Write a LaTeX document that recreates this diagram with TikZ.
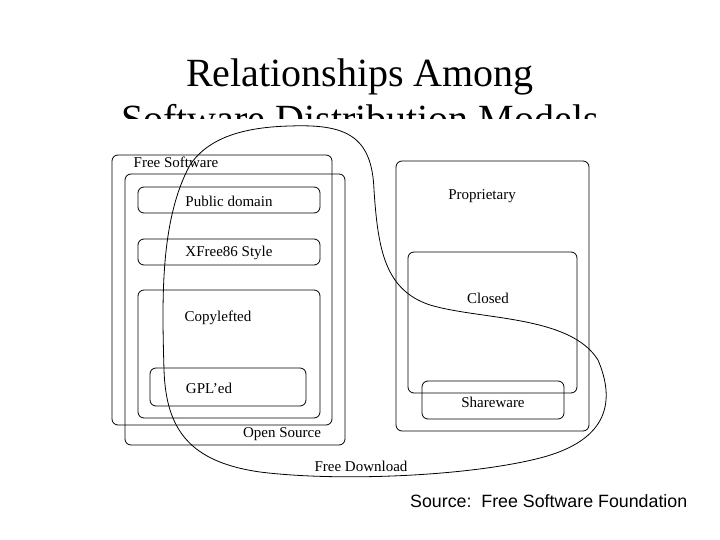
\documentclass[tikz,border=0pt]{standalone}
\usepackage{fontspec}
\setmainfont{Liberation Serif}
\newfontfamily\sans{Liberation Sans}
\begin{document}
\begin{tikzpicture}[x=1pt,y=-1pt,
  box/.style={draw,rounded corners=6pt,line width=0.8pt},
  lab/.style={font=\fontsize{15}{17}\selectfont,inner sep=0pt}]
\useasboundingbox (0,0) rectangle (720,540);
\node[font=\fontsize{40}{46}\selectfont,align=center,anchor=north] (title) at (360,55) {Relationships Among\\Software Distribution Models};
\fill[white] (98,119) rectangle (622,488);
\draw[box] (112,155) rectangle (332,425);
\draw[box] (125,174) rectangle (345,445);
\draw[box] (138,187) rectangle (320,213);
\draw[box] (138,239) rectangle (320,265);
\draw[box] (138,290) rectangle (320,418);
\draw[box] (150,368) rectangle (306,406);
\draw[box] (396,161) rectangle (589,431);
\draw[box] (408,252) rectangle (577,393);
\draw[box] (422,381) rectangle (564,419);
\node[lab] (fs) at (176,162) {Free Software};
\node[lab] (os) at (282,434) {Open Source};
\node[lab] (pd) at (229,201) {Public domain};
\node[lab] (xf) at (229,253) {XFree86 Style};
\node[lab] (cl) at (218,318) {Copylefted};
\node[lab] (gpl) at (209,388) {GPL'ed};
\node[lab] (pr) at (482,196) {Proprietary};
\node[lab] (cs) at (488,298) {Closed};
\node[lab] (sw) at (493,402) {Shareware};
\node[lab] (fd) at (361,466) {Free Download};
\draw[line width=0.8pt] (290,126) .. controls (345,124) and (372,135) .. (374,190)
  .. controls (378,250) and (385,290) .. (430,305)
  .. controls (480,320) and (570,315) .. (598,360)
  .. controls (615,400) and (610,440) .. (540,458)
  .. controls (470,476) and (340,482) .. (260,472)
  .. controls (190,462) and (166,430) .. (164,370)
  .. controls (162,300) and (160,220) .. (190,165)
  .. controls (210,135) and (250,127) .. (290,126);
\node[font=\sans\fontsize{17.8}{20}\selectfont,anchor=west,inner sep=0pt] (src) at (410,501) {Source:\ \ Free Software Foundation};
\end{tikzpicture}
\end{document}
